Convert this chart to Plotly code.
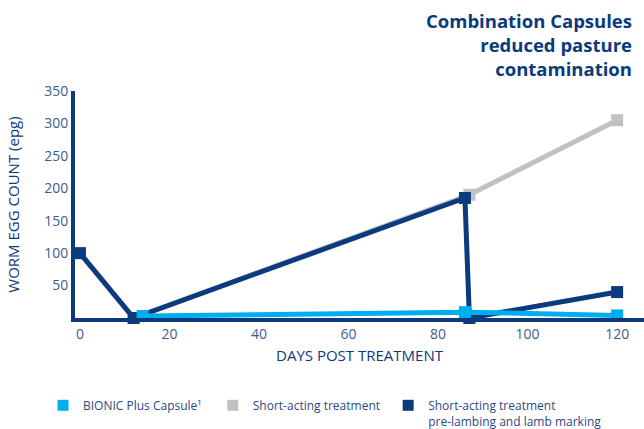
import plotly.graph_objects as go

NAVY = "#0b3a7e"
BLUE = "#00adef"
GRAY = "#c1c1c1"
TICK = "#3d5c93"
FONT = "Open Sans"

# Data
bionic_days = [14, 86, 120]
bionic_epg = [3, 9, 4]

short_days = [0, 12, 87, 120]
short_epg = [100, 0, 190, 305]
short_extra_days = [87]
short_extra_epg = [0]

pre_days = [0, 12, 86, 87, 120]
pre_epg = [100, 0, 185, 0, 40]

x_ticks = [0, 20, 40, 60, 80, 100, 120]
y_ticks = [50, 100, 150, 200, 250, 300, 350]

names = ["BIONIC Plus Capsule¹\u00a0\u00a0", "Short-acting treatment\u00a0",
         "Short-acting treatment<br>pre-lambing and lamb marking"]

fig = go.Figure()
LW = 5
MS = 12

fig.add_trace(go.Scatter(x=short_days, y=short_epg, mode="lines+markers",
                         line=dict(color=GRAY, width=LW),
                         marker=dict(symbol="square", size=MS, color=GRAY),
                         showlegend=False, cliponaxis=False))
fig.add_trace(go.Scatter(x=short_extra_days, y=short_extra_epg, mode="markers",
                         marker=dict(symbol="square", size=MS, color=GRAY),
                         showlegend=False, cliponaxis=False))
fig.add_trace(go.Scatter(x=pre_days, y=pre_epg, mode="lines+markers",
                         line=dict(color=NAVY, width=LW),
                         marker=dict(symbol="square", size=MS, color=NAVY),
                         showlegend=False, cliponaxis=False))
fig.add_trace(go.Scatter(x=bionic_days, y=bionic_epg, mode="lines+markers",
                         line=dict(color=BLUE, width=LW),
                         marker=dict(symbol="square", size=MS, color=BLUE),
                         showlegend=False, cliponaxis=False))

for name, col in zip(names, [BLUE, GRAY, NAVY]):
    fig.add_trace(go.Scatter(x=[None], y=[None], mode="markers", name=name,
                             marker=dict(symbol="square", size=11, color=col)))

fig.update_layout(
    width=644, height=429,
    margin=dict(l=75, r=0, t=91, b=111),
    plot_bgcolor="white", paper_bgcolor="white",
    font=dict(family=FONT, color=TICK, size=14),
    xaxis=dict(range=[-1.1, 126], tickvals=x_ticks, showgrid=False, zeroline=False,
               showline=True, linecolor=NAVY, linewidth=4, ticks="", automargin=False,
               tickfont=dict(size=14, color=TICK),
               title=dict(text="DAYS POST TREATMENT", font=dict(size=15, color=NAVY), standoff=10)),
    yaxis=dict(range=[0, 350], tickvals=y_ticks, showgrid=False, zeroline=False,
               showline=True, linecolor=NAVY, linewidth=4, ticks="", automargin=False,
               tickfont=dict(size=14, color=TICK),
               title=dict(text="WORM EGG COUNT (epg)", font=dict(size=15, color=NAVY), standoff=22)),
    legend=dict(orientation="h", xref="container", yref="container",
                x=43/644, xanchor="left", y=1 - 391/429, yanchor="top",
                font=dict(size=12, color="#2b4a85"), valign="top",
                itemwidth=30, tracegroupgap=0),
    showlegend=True,
)

fig.add_annotation(text="<b>Combination Capsules<br>reduced pasture<br>contamination</b>",
                   xref="paper", yref="paper", x=(634-75)/569, y=1 + (91-6)/227,
                   xanchor="right", yanchor="top", align="right", showarrow=False,
                   font=dict(size=18.5, color=NAVY, family=FONT))

fig.write_html("out.html", config={"displayModeBar": False},
               post_script="document.body.style.margin='0';")
